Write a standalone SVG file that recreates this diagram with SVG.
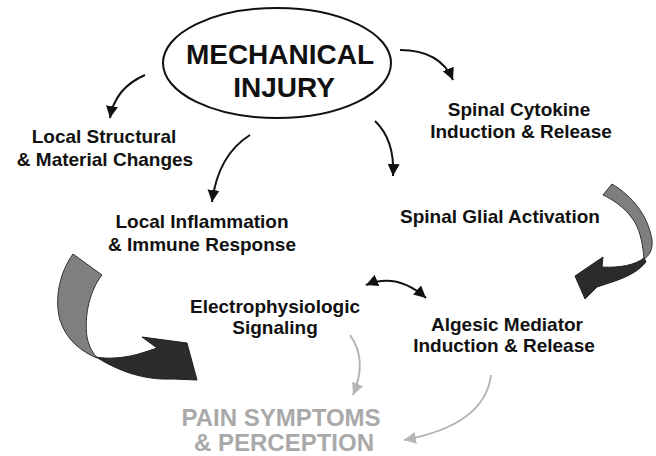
<svg xmlns="http://www.w3.org/2000/svg" width="656" height="456" viewBox="0 0 656 456">
<style>
.t{font-family:"Liberation Sans",Arial,sans-serif;font-weight:bold;font-size:19px;fill:#111;text-anchor:middle}
.big{font-size:28px}
.pain{font-size:24px;fill:#a9a9a9}
.c{fill:none;stroke:#111;stroke-width:2}
.g{fill:none;stroke:#b5b5b5;stroke-width:2}
</style>
<defs>
<marker id="ah" markerUnits="userSpaceOnUse" markerWidth="14" markerHeight="14" refX="12" refY="6" orient="auto-start-reverse" viewBox="0 0 14 12">
<path d="M0,0 L12,6 L0,12 Z" fill="#111"/>
</marker>
<marker id="ahg" markerUnits="userSpaceOnUse" markerWidth="14" markerHeight="14" refX="12" refY="6" orient="auto" viewBox="0 0 14 12">
<path d="M0,0 L12,6 L0,12 Z" fill="#b5b5b5"/>
</marker>
</defs>
<rect width="656" height="456" fill="#fff"/>
<g id="connectors">
<path class="c" d="M145,75 Q115,88 110,118" marker-end="url(#ah)"/>
<path class="c" d="M250,135 Q218,155 212,202" marker-end="url(#ah)"/>
<path class="c" d="M400,50 Q440,50 453,80" marker-end="url(#ah)"/>
<path class="c" d="M375,121 Q395,140 393,176" marker-end="url(#ah)"/>
<path class="c" d="M366,285 Q397,272 426,298" marker-start="url(#ah)" marker-end="url(#ah)"/>
<path class="g" d="M350,335 Q368,360 353,395" marker-end="url(#ahg)"/>
<path class="g" d="M491,375 Q485,425 404,440" marker-end="url(#ahg)"/>
</g>
<g id="ribbon-left">
<path d="M73,254 L102,275 C90,290 84,315 87,337 C89,347 93,353 97,358 C82,352 66,340 60,320 C54,298 60,272 73,254 Z" fill="#7f7f7f" stroke="#333" stroke-width="1"/>
<path d="M96,357 C105,359 125,359 145,352 L157,348 L142,337 L187,343 L197,380 L173,379 C150,380 125,375 96,357 Z" fill="#2b2b2b" stroke="#222" stroke-width="1"/>
</g>
<g id="ribbon-right">
<path d="M612,184 C632,196 648,215 652,240 C653,250 649,256 644,259 C643,245 640,228 632,218 C624,207 612,199 603,195 Z" fill="#7f7f7f" stroke="#333" stroke-width="1"/>
<path d="M644,258 C635,265 620,268 602,267 L603,257 L575,276 L585,299 L597,287 C615,281 635,276 646,262 Z" fill="#2b2b2b" stroke="#222" stroke-width="1"/>
</g>
<g id="mechanical-injury">
<ellipse cx="277" cy="63" rx="114" ry="55" fill="#fff" stroke="#111" stroke-width="2"/>
<text class="t big" x="280" y="64">MECHANICAL</text>
<text class="t big" x="284" y="97">INJURY</text>
</g>
<g id="local-structural">
<text class="t" x="104" y="143">Local Structural</text>
<text class="t" x="105" y="166">&amp; Material Changes</text>
</g>
<g id="local-inflammation">
<text class="t" x="202" y="228">Local Inflammation</text>
<text class="t" x="202" y="251">&amp; Immune Response</text>
</g>
<g id="spinal-cytokine">
<text class="t" x="519" y="116">Spinal Cytokine</text>
<text class="t" x="521" y="138">Induction &amp; Release</text>
</g>
<g id="spinal-glial">
<text class="t" x="500" y="223">Spinal Glial Activation</text>
</g>
<g id="electrophysiologic">
<text class="t" x="275" y="313">Electrophysiologic</text>
<text class="t" x="275" y="334">Signaling</text>
</g>
<g id="algesic-mediator">
<text class="t" x="507" y="331">Algesic Mediator</text>
<text class="t" x="504" y="352">Induction &amp; Release</text>
</g>
<g id="pain-symptoms">
<text class="t pain" x="281" y="426">PAIN SYMPTOMS</text>
<text class="t pain" x="284" y="451">&amp; PERCEPTION</text>
</g>
</svg>
